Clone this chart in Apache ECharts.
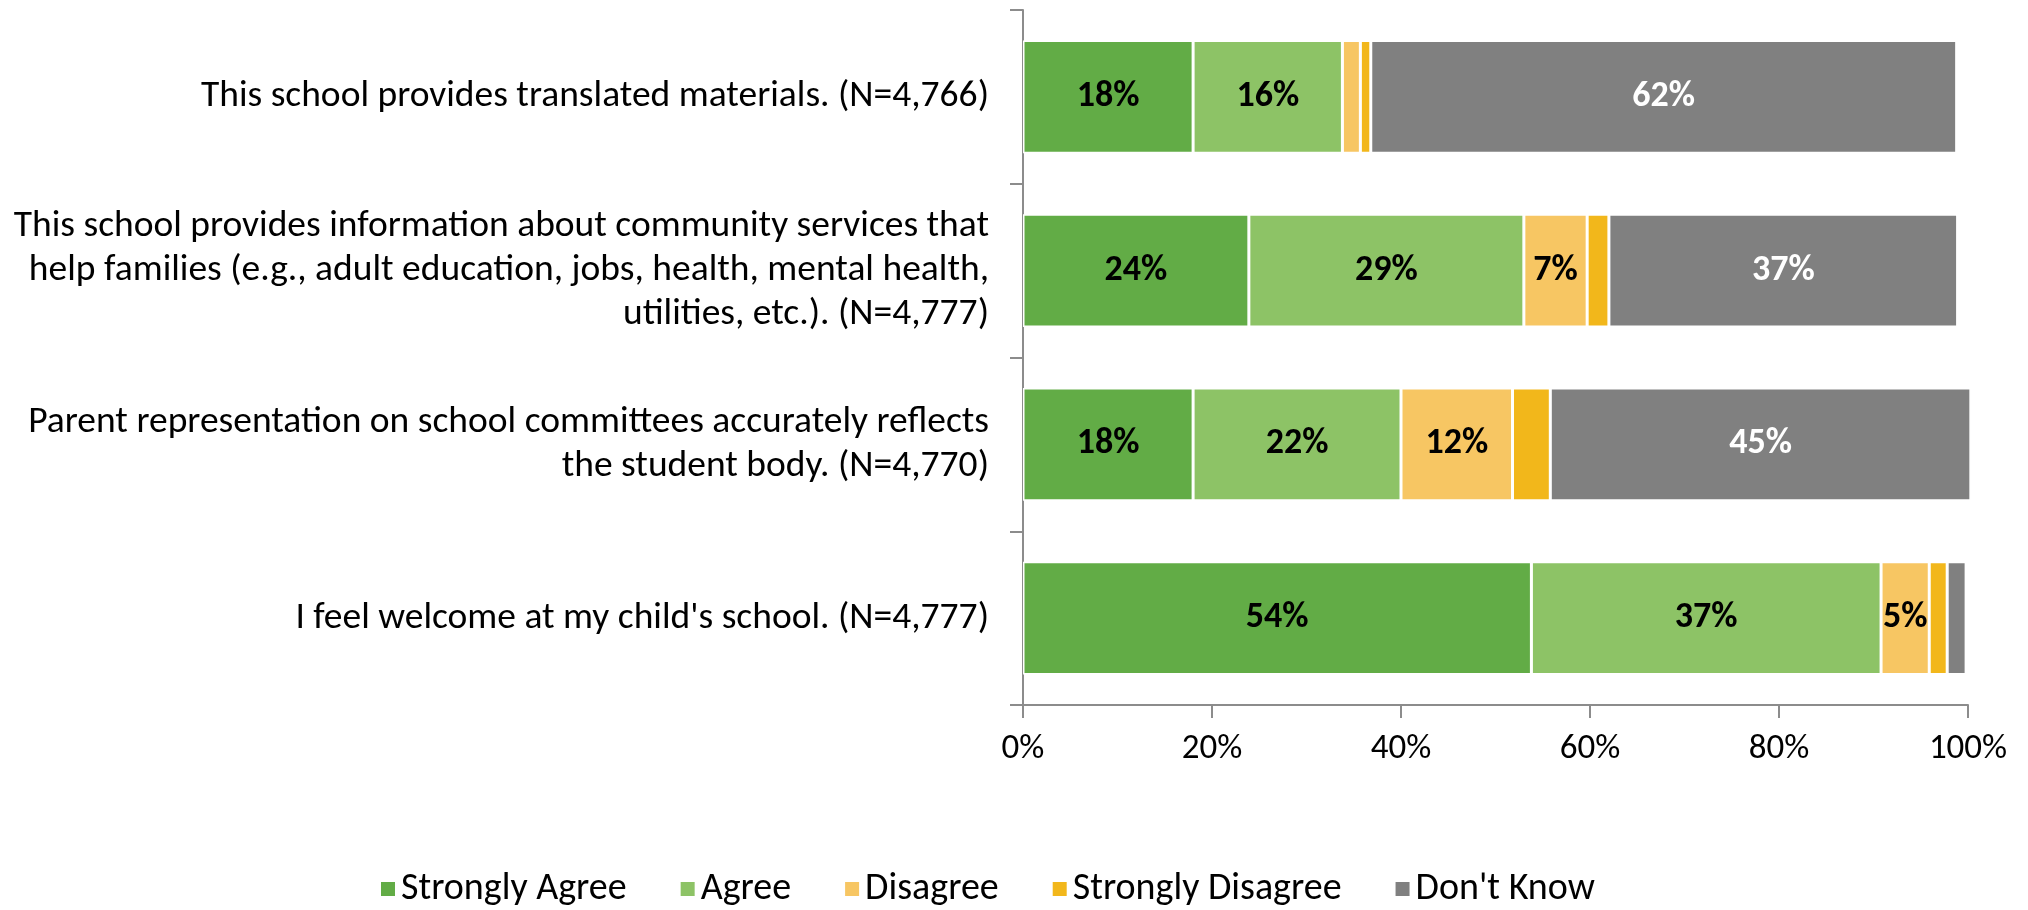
<!DOCTYPE html>
<html>
<head>
<meta charset="utf-8">
<script src="https://cdn.jsdelivr.net/npm/echarts@6/dist/echarts.min.js"></script>
<style>
html,body{margin:0;padding:0;background:#fff;}
#chart{width:2028px;height:910px;}
</style>
</head>
<body>
<div id="chart"></div>
<script>
const categories = [
  "This school provides translated materials. (N=4,766)",
  "This school provides information about community services that\nhelp families (e.g., adult education, jobs, health, mental health,\nutilities, etc.). (N=4,777)",
  "Parent representation on school committees accurately reflects\nthe student body. (N=4,770)",
  "I feel welcome at my child's school. (N=4,777)"
];
const seriesNames = ["Strongly Agree", "Agree", "Disagree", "Strongly Disagree", "Don't Know"];
const stronglyAgree = [18.0, 23.9, 18.0, 53.8];
const agree = [15.8, 29.1, 22.0, 37.0];
const disagree = [1.9, 6.7, 11.8, 5.1];
const stronglyDisagree = [1.1, 2.3, 4.0, 1.9];
const dontKnow = [62.0, 36.9, 44.5, 2.0];
const xTicks = [0, 20, 40, 60, 80, 100];

const colors = ["#62AC46", "#8DC366", "#F7C663", "#F2B71B", "#808080"];
const labelColors = ["#000", "#000", "#000", "#000", "#fff"];
const allData = [stronglyAgree, agree, disagree, stronglyDisagree, dontKnow];
const FONT = "Carlito, Calibri, Lato, sans-serif";

const chart = echarts.init(document.getElementById('chart'));
chart.setOption({
  animation: false,
  backgroundColor: '#fff',
  color: colors,
  textStyle: { fontFamily: FONT },
  grid: { left: 1023, right: 60, top: 10, bottom: 205, containLabel: false },
  legend: {
    top: 870,
    left: 379,
    padding: 0,
    itemWidth: 16,
    itemHeight: 16,
    itemGap: 52,
    icon: 'rect',
    textStyle: { fontSize: 38, color: '#000', fontFamily: FONT },
    data: seriesNames
  },
  xAxis: {
    type: 'value',
    min: xTicks[0], max: xTicks[xTicks.length - 1], interval: xTicks[1] - xTicks[0],
    axisLine: { show: true, lineStyle: { color: '#8c8c8c', width: 2 } },
    axisTick: { show: true, length: 13, lineStyle: { color: '#8c8c8c', width: 2 } },
    splitLine: { show: false },
    axisLabel: { fontSize: 35, color: '#000', margin: 27, fontFamily: FONT,
      formatter: v => v + '%' }
  },
  yAxis: {
    type: 'category',
    inverse: true,
    data: categories,
    axisLine: { show: true, lineStyle: { color: '#8c8c8c', width: 2 } },
    axisTick: { show: true, length: 13, lineStyle: { color: '#8c8c8c', width: 2 } },
    axisLabel: { fontSize: 37.5, color: '#000', margin: 34, lineHeight: 44, align: 'right', fontFamily: FONT }
  },
  series: allData.map((d, i) => ({
    name: seriesNames[i],
    type: 'bar',
    stack: 'total',
    barCategoryGap: '35%',
    clip: false,
    data: d,
    itemStyle: { color: colors[i], borderColor: '#fff', borderWidth: 1.5 },
    label: {
      show: true,
      position: 'inside',
      color: labelColors[i],
      fontWeight: 'bold',
      fontSize: 36,
      fontFamily: FONT,
      formatter: p => p.value >= 5 ? Math.round(p.value) + '%' : ''
    }
  }))
});
</script>
</body>
</html>
